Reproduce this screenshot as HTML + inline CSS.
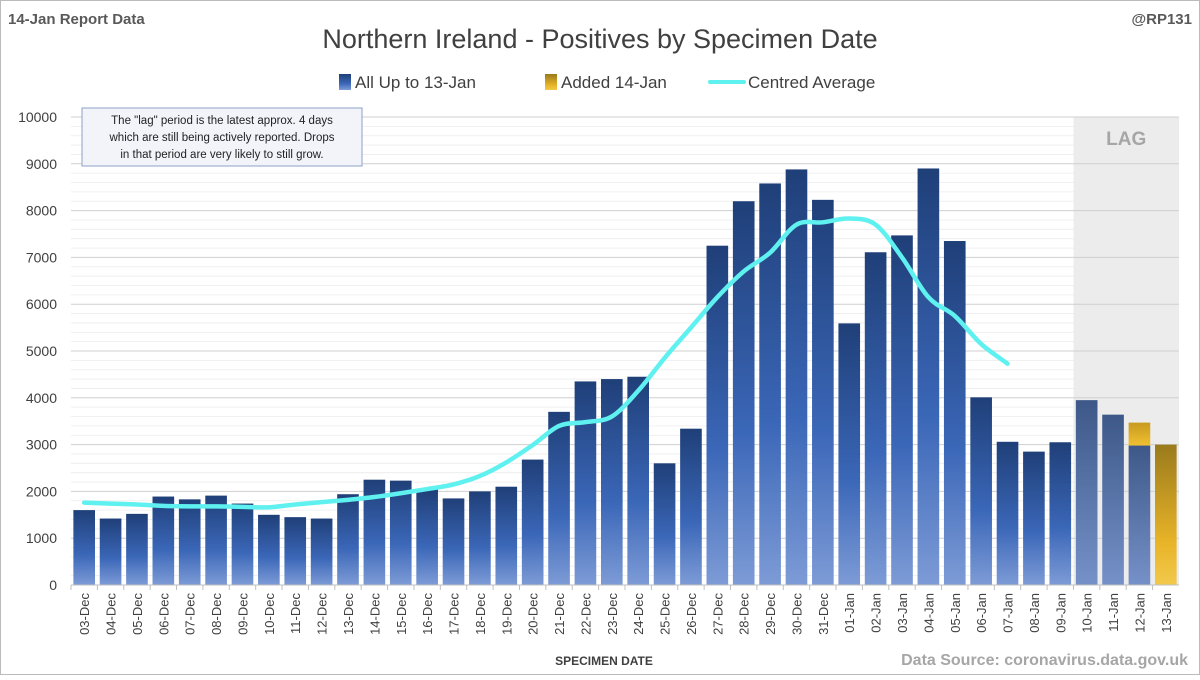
<!DOCTYPE html>
<html><head><meta charset="utf-8"><style>
body{margin:0;background:#fff;}
svg text{font-family:"Liberation Sans",sans-serif;}
</style></head><body>
<svg id="c" width="1200" height="675" viewBox="0 0 1200 675" xmlns="http://www.w3.org/2000/svg">
<defs>
<linearGradient id="gb" x1="0" y1="0" x2="0" y2="1"><stop offset="0" stop-color="#1f3f78"/><stop offset="0.6" stop-color="#3b67b8"/><stop offset="1" stop-color="#7d9bd6"/></linearGradient>
<linearGradient id="gl" x1="0" y1="0" x2="0" y2="1"><stop offset="0" stop-color="#3d5888"/><stop offset="1" stop-color="#7591c8"/></linearGradient>
<linearGradient id="gy" x1="0" y1="0" x2="0" y2="1"><stop offset="0" stop-color="#9a7a1c"/><stop offset="0.7" stop-color="#e8b428"/><stop offset="1" stop-color="#f2c94c"/></linearGradient>
<linearGradient id="gy2" x1="0" y1="0" x2="0" y2="1"><stop offset="0" stop-color="#c89a20"/><stop offset="1" stop-color="#f0c030"/></linearGradient>
</defs>
<rect x="0.5" y="0.5" width="1199" height="674" fill="#fff" stroke="#bbb"/>
<text x="8" y="24" font-size="15" font-weight="bold" fill="#595959">14-Jan Report Data</text>
<text x="1192" y="24" font-size="15" font-weight="bold" fill="#595959" text-anchor="end">@RP131</text>
<text x="600" y="48" font-size="27" fill="#404040" text-anchor="middle">Northern Ireland - Positives by Specimen Date</text>
<g>
<g><rect x="339" y="74" width="12" height="16" fill="url(#gb)"/><text x="355" y="88" font-size="17" fill="#404040">All Up to 13-Jan</text></g>
<g><rect x="545" y="74" width="12" height="16" fill="url(#gy)"/><text x="561" y="88" font-size="17" fill="#404040">Added 14-Jan</text></g>
<g><line x1="710" y1="82" x2="744" y2="82" stroke="#5ff0f0" stroke-width="4" stroke-linecap="round"/><text x="748" y="88" font-size="17" fill="#404040">Centred Average</text></g>
</g>
<g id="plot"></g>
<g>
<rect x="82" y="108" width="280" height="58" fill="#f2f4fa" stroke="#8ea0c8"/>
<text x="222" y="124" font-size="11.5" fill="#222" text-anchor="middle">The "lag" period is the latest approx. 4 days</text>
<text x="222" y="141" font-size="11.5" fill="#222" text-anchor="middle">which are still being actively reported.  Drops</text>
<text x="222" y="158" font-size="11.5" fill="#222" text-anchor="middle">in that period are very likely to still grow.</text>
</g>
<text x="604" y="665" font-size="12" font-weight="bold" fill="#404040" text-anchor="middle">SPECIMEN DATE</text>
<text x="1188" y="665" font-size="16" font-weight="bold" fill="#a6a6a6" text-anchor="end">Data Source: coronavirus.data.gov.uk</text>
</svg>
<script>
const categories=["03-Dec","04-Dec","05-Dec","06-Dec","07-Dec","08-Dec","09-Dec","10-Dec","11-Dec","12-Dec","13-Dec","14-Dec","15-Dec","16-Dec","17-Dec","18-Dec","19-Dec","20-Dec","21-Dec","22-Dec","23-Dec","24-Dec","25-Dec","26-Dec","27-Dec","28-Dec","29-Dec","30-Dec","31-Dec","01-Jan","02-Jan","03-Jan","04-Jan","05-Jan","06-Jan","07-Jan","08-Jan","09-Jan","10-Jan","11-Jan","12-Jan","13-Jan"];
const upTo13=[1600,1420,1520,1890,1830,1910,1740,1500,1450,1420,1940,2250,2230,2040,1850,2000,2100,2680,3700,4350,4400,4450,2600,3340,7250,8200,8580,8880,8230,5590,7110,7470,8900,7350,4010,3060,2850,3050,3950,3640,2980,0];
const added14=[0,0,0,0,0,0,0,0,0,0,0,0,0,0,0,0,0,0,0,0,0,0,0,0,0,0,0,0,0,0,0,0,0,0,0,0,0,0,0,0,490,3000];
const avg=[1760,1740,1720,1690,1680,1680,1670,1660,1720,1770,1820,1880,1960,2050,2150,2330,2620,2990,3400,3480,3600,4150,4850,5500,6150,6700,7100,7700,7750,7830,7700,7000,6150,5750,5150,4730];
const yTicks=[0,1000,2000,3000,4000,5000,6000,7000,8000,9000,10000];
const lagStart=38;
const NS="http://www.w3.org/2000/svg";
const L=71,R=1179,T=117,B=585,yMax=10000;
const step=(R-L)/categories.length;
const y=v=>B-(v/yMax)*(B-T);
const xc=i=>L+step*(i+0.5);
const g=document.getElementById('plot');
function mk(t,a){const e=document.createElementNS(NS,t);for(const k in a)e.setAttribute(k,a[k]);g.appendChild(e);return e;}
const lag=mk('rect',{x:L+step*lagStart,y:T,width:R-(L+step*lagStart),height:B-T,fill:'#ececec'});


for(let v=0;v<=yMax;v+=200){if(v%1000)mk('line',{x1:L,x2:R,y1:y(v),y2:y(v),stroke:'#ececec','stroke-width':0.8});}
yTicks.forEach(v=>{
const ln=mk('line',{x1:L,x2:R,y1:y(v),y2:y(v),stroke:'#cfcfcf','stroke-width':1});


const t=mk('text',{x:L-14,y:y(v)+5,'font-size':14,fill:'#404040','text-anchor':'end'});t.textContent=v;


});
const lt=mk('text',{x:(L+step*lagStart+R)/2,y:T+28,'font-size':19,'font-weight':'bold',fill:'#a6a6a6','text-anchor':'middle'});lt.textContent='LAG';


const bw=step*0.82;
categories.forEach((c,i)=>{
if(upTo13[i]>0){const b=mk('rect',{x:xc(i)-bw/2,y:y(upTo13[i]),width:bw,height:B-y(upTo13[i]),fill:i>=lagStart?'url(#gl)':'url(#gb)'});

}
if(added14[i]>0){const top=y(upTo13[i]+added14[i]);const b=mk('rect',{x:xc(i)-bw/2,y:top,width:bw,height:y(upTo13[i])-top,fill:upTo13[i]>0?'url(#gy2)':'url(#gy)'});

}
mk('line',{x1:L+step*i,x2:L+step*i,y1:B,y2:B+5,stroke:'#bfbfbf'});
const t=mk('text',{transform:`translate(${xc(i)+5},${B+8}) rotate(-90)`,'font-size':13,fill:'#404040','text-anchor':'end'});t.textContent=c;


});
mk('line',{x1:L,x2:R,y1:B,y2:B,stroke:'#bfbfbf'});
const pts=avg.map((v,i)=>[xc(i),y(v)]);
let d='M'+pts[0][0]+','+pts[0][1];
for(let i=0;i<pts.length-1;i++){
const p0=pts[Math.max(0,i-1)],p1=pts[i],p2=pts[i+1],p3=pts[Math.min(pts.length-1,i+2)];
const c1=[p1[0]+(p2[0]-p0[0])/6,p1[1]+(p2[1]-p0[1])/6],c2=[p2[0]-(p3[0]-p1[0])/6,p2[1]-(p3[1]-p1[1])/6];
d+=`C${c1[0]},${c1[1]} ${c2[0]},${c2[1]} ${p2[0]},${p2[1]}`;
}
const p=mk('path',{d:d,fill:'none',stroke:'#5ff0f0','stroke-width':4.5,'stroke-linejoin':'round','stroke-linecap':'round'});


</script>
</body></html>
